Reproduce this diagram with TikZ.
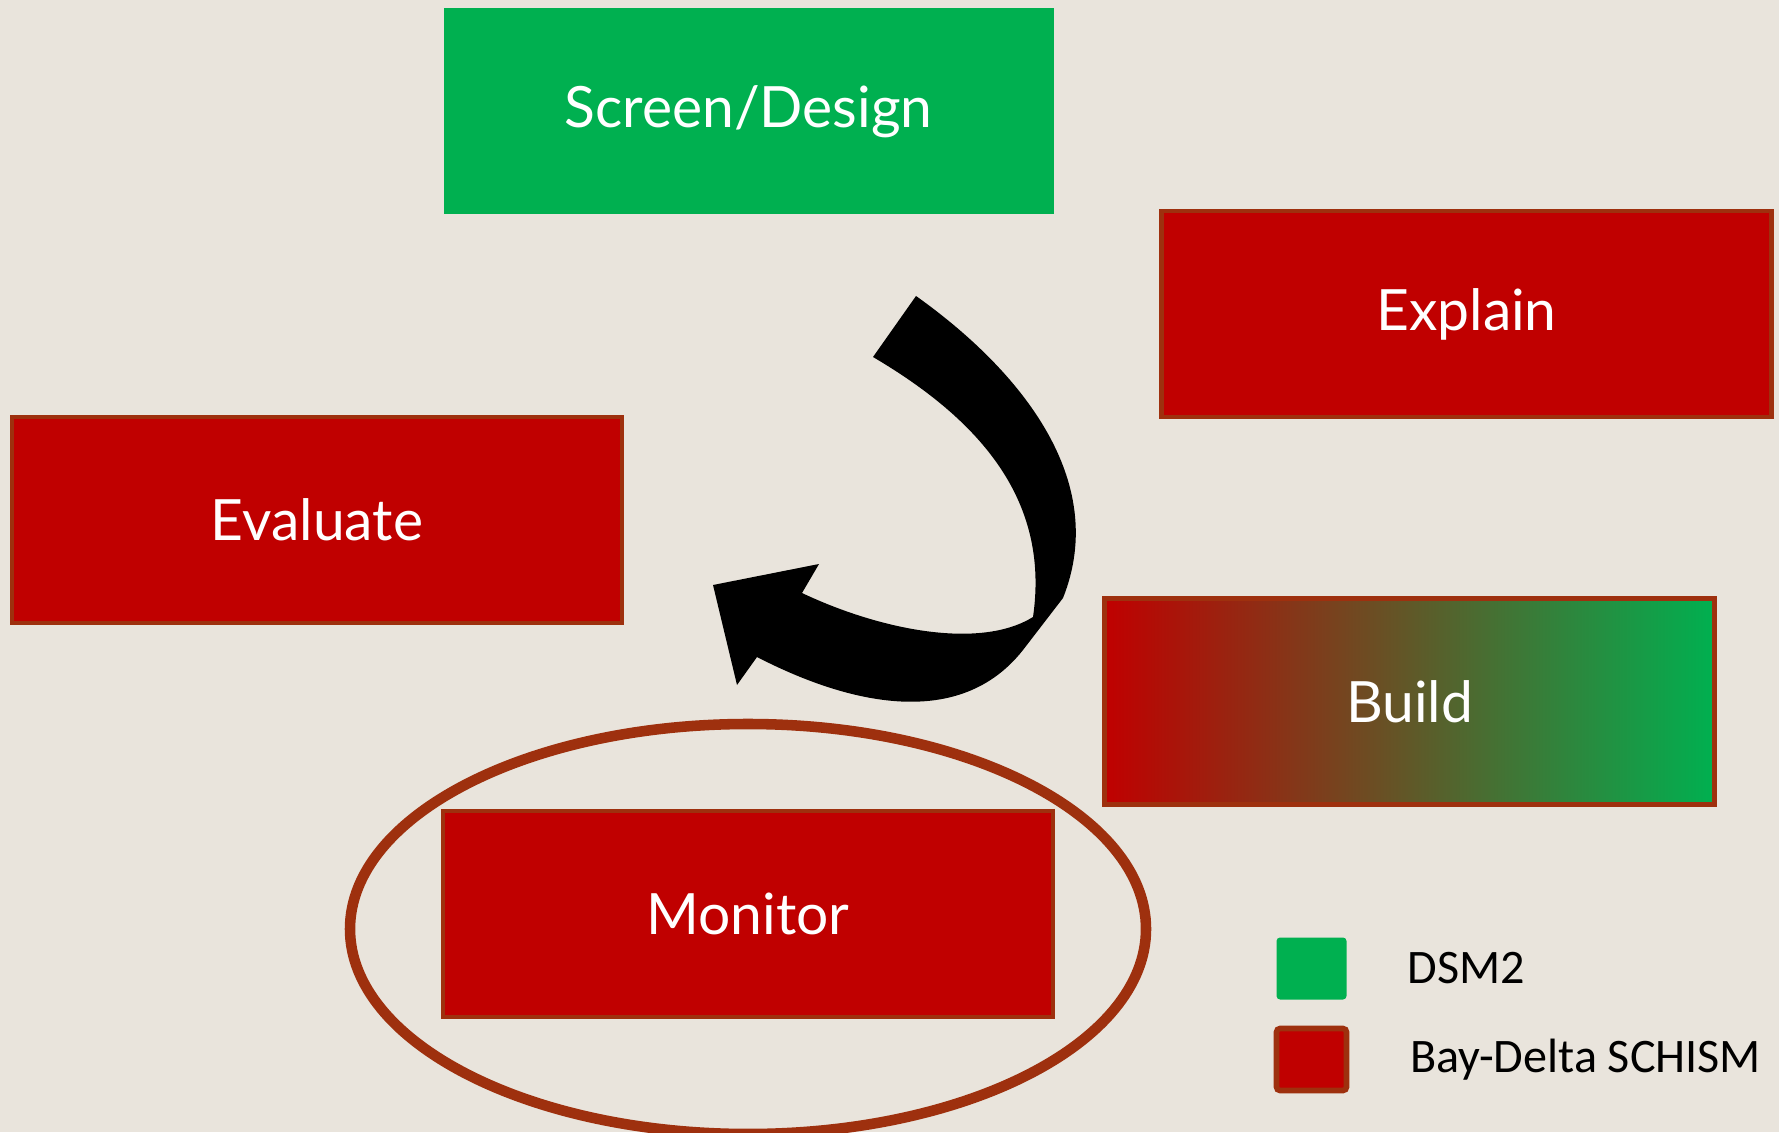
\documentclass[tikz,border=0pt]{standalone}
\usepackage{fontspec}
\setmainfont{Carlito}
\newfontfamily\gillfont{Lato}
\usetikzlibrary{positioning}
\definecolor{bgcol}{RGB}{233,228,220}
\definecolor{dsmgreen}{RGB}{0,176,80}
\definecolor{schismred}{RGB}{192,0,0}
\definecolor{rimbrown}{RGB}{158,48,14}

\begin{document}
\begin{tikzpicture}[every node/.style={font=\gillfont\fontsize{16.2}{19}\selectfont, text=white},
  box/.style={rectangle, minimum width=6.1cm, minimum height=2.06cm, inner sep=0pt},
  redbox/.style={box, fill=schismred, draw=rimbrown, line width=1.3pt},
  keybox/.style={rectangle, minimum width=0.7cm, minimum height=0.62cm, rounded corners=1pt},
  keytext/.style={font=\fontsize{13.7}{16}\selectfont, text=black, inner sep=0pt}]
\fill[bgcol] (0,0) rectangle (17.79,-11.32);
\useasboundingbox (0,0) rectangle (17.79,-11.32);
% the five steps
\node[box, fill=dsmgreen] (screen) at (7.485,-1.115) {\raisebox{-0.6ex}{Screen/Design}};
\node[redbox] (explain) at (14.665,-3.14) {Explain};
\node[redbox] (evaluate) at (3.17,-5.20) {Evaluate};
\node[box, left color=schismred, right color=dsmgreen, draw=rimbrown, line width=1.3pt] (build) at (14.095,-7.015) {Build};
\node[redbox] (monitor) at (7.48,-9.14) {Monitor};
\draw[rimbrown, line width=3pt] (7.48,-9.29) ellipse (3.98cm and 2.05cm);
% curved arrow
\fill[black] (9.16,-2.96) .. controls (10.2,-3.7) and (11.1,-4.8) .. (10.63,-5.98)
  -- (10.23,-6.50) .. controls (9.6,-7.3) and (8.5,-7.05) .. (7.57,-6.57)
  -- (7.37,-6.85) -- (7.13,-5.85) -- (8.19,-5.64) -- (8.02,-5.93)
  .. controls (8.8,-6.3) and (9.8,-6.5) .. (10.33,-6.17)
  .. controls (10.5,-5.0) and (9.8,-4.2) .. (8.73,-3.57) -- cycle;
% legend
\node[keybox, fill=dsmgreen] (dsmkey) at (13.115,-9.685) {};
\node[keybox, fill=schismred, draw=rimbrown, line width=1.6pt] (schismkey) at (13.115,-10.595) {};
\node[keytext, right=0.6cm of dsmkey] (dsmlabel) {DSM2};
\node[keytext, right=0.6cm of schismkey] (schismlabel) {Bay-Delta SCHISM};
\end{tikzpicture}
\end{document}
